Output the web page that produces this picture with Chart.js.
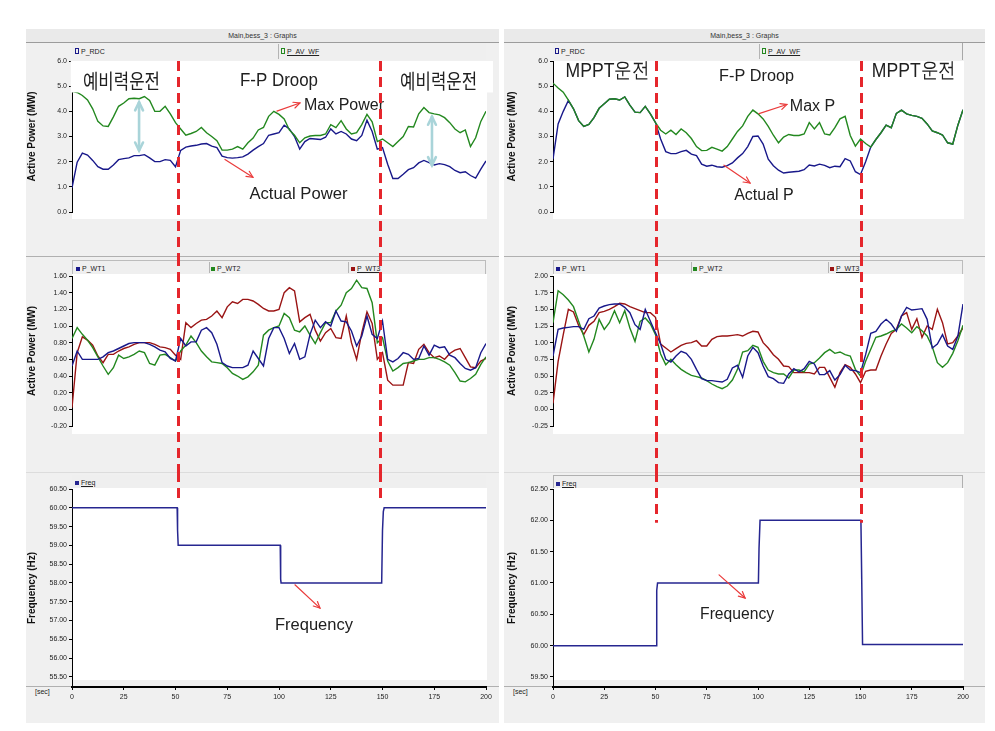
<!DOCTYPE html>
<html>
<head>
<meta charset="utf-8">
<title>Main,bess_3 : Graphs</title>
<script src="https://cdn.jsdelivr.net/npm/chart.js@4.4.1/dist/chart.umd.min.js"></script>
<style>
  body { margin: 0; width: 995px; height: 731px; position: relative; overflow: hidden; background: #fff; font-family: "Liberation Sans", Arial, sans-serif; }
  .frame { position: absolute; top: 29px; height: 694px; background: #f0f0f0; }
  .frame .title { position: absolute; left: 0; right: 0; top: 0; height: 13px; line-height: 13px; font-size: 7px; text-align: center; color: #333; background: #eaeaea; border-bottom: 1px solid #9c9c9c; }
  .sep { position: absolute; height: 1px; background: #b0b0b0; }
  .legend { position: absolute; background: #efefef; box-sizing: border-box; font-size: 7px; color: #222; }
  .legend .item { position: absolute; white-space: nowrap; line-height: 9px; }
  .legend .div { position: absolute; top: 1px; bottom: 1px; width: 1px; background: #b4b4b4; }
  .mk { display: inline-block; width: 4px; height: 4px; margin-right: 2px; vertical-align: 0px; }
  .mk.hollow { background: transparent !important; border: 1px solid; width: 2px; height: 4px; }
  .u { text-decoration: underline; }
  .axname { position: absolute; font-size: 7px; color: #222; }
  canvas { position: absolute; }
</style>
</head>
<body>

<div class="frame" style="left:26px;width:473px"><div class="title">Main,bess_3 : Graphs</div></div>
<div class="frame" style="left:504px;width:481px"><div class="title">Main,bess_3 : Graphs</div></div>
<div class="sep" style="left:26px;width:473px;top:256px"></div>
<div class="sep" style="left:504px;width:481px;top:256px"></div>
<div class="sep" style="left:26px;width:473px;top:472px;background:#dcdcdc"></div>
<div class="sep" style="left:504px;width:481px;top:472px;background:#dcdcdc"></div>
<div class="sep" style="left:26px;width:473px;top:686px"></div>
<div class="sep" style="left:504px;width:481px;top:686px"></div>
<div class="axname" style="left:35px;top:688px">[sec]</div>
<div class="axname" style="left:513px;top:688px">[sec]</div>

<script>
// time axis (s), sampled every 2.5 s
const T = [0, 2.5, 5, 7.5, 10, 12.5, 15, 17.5, 20, 22.5, 25, 27.5, 30, 32.5, 35, 37.5, 40, 42.5, 45, 47.5,
  50, 52.5, 55, 57.5, 60, 62.5, 65, 67.5, 70, 72.5, 75, 77.5, 80, 82.5, 85, 87.5, 90, 92.5, 95, 97.5,
  100, 102.5, 105, 107.5, 110, 112.5, 115, 117.5, 120, 122.5, 125, 127.5, 130, 132.5, 135, 137.5, 140, 142.5, 145, 147.5,
  150, 152.5, 155, 157.5, 160, 162.5, 165, 167.5, 170, 172.5, 175, 177.5, 180, 182.5, 185, 187.5, 190, 192.5, 195, 197.5, 200];

// tick labels
const xTicks = [0, 25, 50, 75, 100, 125, 150, 175, 200];
const pTicks = [0, 1, 2, 3, 4, 5, 6];
const wtTicksL = [-0.2, 0, 0.2, 0.4, 0.6, 0.8, 1.0, 1.2, 1.4, 1.6];
const wtTicksR = [-0.25, 0, 0.25, 0.5, 0.75, 1.0, 1.25, 1.5, 1.75, 2.0];
const fTicksL = [55.5, 56, 56.5, 57, 57.5, 58, 58.5, 59, 59.5, 60, 60.5];
const fTicksR = [59.5, 60, 60.5, 61, 61.5, 62, 62.5];

// mode change instants (red dashed lines)
const modeL = [51, 149];
const modeR = [50, 150];

// --- left column: 예비력운전 / F-P Droop ---
const avWfL = [4.8, 4.75, 4.63, 4.45, 4.1, 3.6, 3.42, 3.4, 3.78, 4.2, 4.33, 4.5, 4.52, 4.5, 4.59, 4.43, 4.0, 4.0, 4.2, 3.9,
  3.55, 3.3, 3.05, 3.12, 3.2, 3.36, 3.15, 3.0, 2.83, 2.46, 2.46, 2.5, 2.6, 2.5, 2.75, 2.94, 3.26, 3.36, 3.8, 4.0,
  3.88, 3.7, 3.26, 3.05, 2.75, 2.95, 3.02, 3.04, 3.04, 3.1, 3.47, 3.35, 3.63, 3.3, 3.1, 3.15, 3.47, 3.88, 3.58, 2.8,
  2.9, 2.75, 2.6, 2.8, 3.0, 3.4, 3.38, 3.9, 4.15, 3.95, 3.9, 3.86, 3.75, 3.55, 3.3, 3.15, 3.26, 2.6, 2.95, 3.6, 4.0];
const rdcL = [0.96, 1.98, 2.34, 2.26, 2.05, 1.8, 1.7, 1.7, 1.87, 2.08, 2.12, 2.15, 2.24, 2.24, 2.28, 2.15, 2.0, 2.0, 2.08, 2.05,
  1.8, 2.45, 2.58, 2.62, 2.65, 2.7, 2.72, 2.62, 2.56, 2.22, 2.16, 2.14, 2.16, 2.19, 2.3, 2.46, 2.6, 2.72, 3.05, 3.1,
  3.15, 3.45, 3.3, 3.0, 2.5, 2.8, 2.92, 2.9, 2.88, 2.97, 3.3, 3.1, 3.2, 3.1, 2.9, 2.83, 3.04, 3.65, 3.2, 2.5,
  2.56, 1.9, 1.33, 1.33, 1.5, 1.68, 1.76, 1.95, 2.05, 1.96, 1.87, 1.92, 1.88, 1.8, 1.65, 1.56, 1.6, 1.45, 1.35, 1.7, 2.03];
const wt1L = [0.52, 0.7, 0.6, 0.6, 0.6, 0.6, 0.63, 0.68, 0.7, 0.73, 0.76, 0.79, 0.8, 0.8, 0.8, 0.78, 0.75, 0.71, 0.69, 0.61,
  0.58, 0.85, 0.76, 0.81, 0.81, 0.95, 0.98, 0.92, 0.78, 0.56, 0.52, 0.5, 0.5, 0.5, 0.53, 0.7, 0.61, 0.52, 0.85, 0.98,
  0.98, 0.85, 0.67, 0.79, 0.6, 0.63, 0.9, 1.07, 0.98, 1.05, 1.0, 1.18, 1.06, 1.05, 0.94, 0.76, 0.88, 1.12, 0.9, 0.85,
  1.06, 0.6, 0.57, 0.61, 0.68, 0.66, 0.6, 0.61, 0.76, 0.65, 0.77, 0.74, 0.75, 0.65, 0.62, 0.55, 0.49, 0.47, 0.5, 0.68, 0.79];
const wt2L = [0.85, 0.98, 0.9, 0.83, 0.74, 0.63, 0.52, 0.42, 0.5, 0.65, 0.61, 0.63, 0.66, 0.7, 0.68, 0.55, 0.53, 0.65, 0.66, 0.62,
  0.58, 0.7, 0.77, 0.88, 0.8, 0.7, 0.63, 0.57, 0.56, 0.55, 0.5, 0.43, 0.4, 0.36, 0.39, 0.45, 0.53, 0.89, 0.95, 0.98,
  1.0, 1.15, 1.1, 0.95, 0.93, 1.0, 0.89, 0.79, 0.92, 1.04, 1.04, 1.18, 1.25, 1.4, 1.45, 1.55, 1.46, 1.45, 1.28, 0.8,
  0.86, 0.58, 0.46, 0.5, 0.55, 0.56, 0.58, 0.6, 0.6, 0.62, 0.62, 0.6, 0.57, 0.53, 0.44, 0.34, 0.33, 0.37, 0.42, 0.54, 0.63];
const wt3L = [0.02, 0.68, 0.87, 0.83, 0.77, 0.64, 0.56, 0.66, 0.66, 0.7, 0.73, 0.75, 0.78, 0.8, 0.8, 0.8, 0.78, 0.75, 0.74, 0.72,
  0.65, 0.6, 1.04, 0.98, 1.03, 1.07, 1.08, 1.12, 1.18, 1.1, 1.23, 1.29, 1.27, 1.32, 1.32, 1.3, 1.26, 1.21, 1.18, 1.18,
  1.2, 1.4, 1.46, 1.42, 1.05, 1.1, 1.14, 0.95, 0.82, 0.92, 0.97, 0.86, 0.85, 1.12, 0.8, 0.6, 0.92, 1.17, 1.03, 0.6,
  0.68, 0.35, 0.29, 0.29, 0.29, 0.56, 0.55, 0.72, 0.78, 0.68, 0.62, 0.64, 0.6, 0.67, 0.71, 0.73, 0.62, 0.51, 0.5, 0.58, 0.61];
const freqTL = [0, 50.8, 51, 51.3, 100.6, 100.8, 101, 149.6, 150, 150.4, 150.8, 200];
const freqL = [60, 60, 59.4, 59.0, 59.0, 58.1, 58.0, 58.0, 59.4, 59.9, 60.0, 60.0];

// --- right column: MPPT운전 / F-P Droop ---
const avWfR = [5.12, 4.93, 4.76, 4.45, 4.1, 3.63, 3.4, 3.48, 3.75, 4.12, 4.3, 4.48, 4.5, 4.45, 4.57, 4.25, 3.97, 3.95, 4.2, 3.9,
  3.55, 3.25, 3.1, 3.25, 3.08, 3.3, 3.15, 2.92, 2.6, 2.44, 2.45, 2.57, 2.5, 2.42, 2.6, 2.9, 3.2, 3.42, 3.8, 4.05,
  3.9, 3.7, 3.4, 3.05, 2.75, 2.98, 3.08, 3.04, 3.04, 3.1, 3.55, 3.3, 3.55, 3.1, 3.06, 3.35, 3.7, 3.8, 3.04, 2.62,
  2.9, 2.72, 2.58, 2.88, 3.15, 3.45, 3.35, 3.92, 4.05, 3.9, 3.84, 3.8, 3.72, 3.5, 3.22, 3.15, 3.06, 2.75, 2.7, 3.45, 4.06];
const rdcR = [2.1, 3.5, 4.0, 4.43, 4.1, 3.63, 3.4, 3.48, 3.75, 4.12, 4.3, 4.48, 4.5, 4.45, 4.57, 4.25, 3.97, 3.95, 4.2, 3.9,
  3.55, 2.9, 2.4, 2.32, 2.32, 2.4, 2.45, 2.3, 2.24, 1.9, 1.82, 1.86, 1.8, 1.78, 1.84, 1.95, 2.15, 2.32, 2.6, 3.0,
  3.02, 2.7, 2.1, 1.84, 1.66, 1.55, 1.58, 1.6, 1.62, 1.68, 1.87, 1.83, 1.9, 1.85, 1.76, 1.82, 1.8, 2.12, 2.03, 1.6,
  1.49, 2.0, 2.58, 2.88, 3.15, 3.45, 3.35, 3.92, 4.05, 3.9, 3.84, 3.8, 3.72, 3.5, 3.22, 3.15, 3.06, 2.75, 2.7, 3.45, 4.06];
const wt1R = [0.8, 1.2, 1.22, 1.23, 1.24, 1.24, 1.2, 1.36, 1.4, 1.52, 1.55, 1.57, 1.58, 1.58, 1.53, 1.45, 1.27, 1.2, 1.5, 1.32,
  1.15, 0.98, 0.75, 0.71, 0.8, 0.87, 0.84, 0.75, 0.6, 0.46, 0.43, 0.43, 0.42, 0.41, 0.45, 0.62, 0.66, 0.48, 0.8, 0.93,
  0.85, 0.65, 0.49, 0.46, 0.4, 0.39, 0.53, 0.61, 0.56, 0.61, 0.72, 0.68, 0.52, 0.52, 0.58, 0.44, 0.52, 0.66, 0.59, 0.58,
  0.55, 0.82, 1.14, 1.17, 1.28, 1.35, 1.28, 1.17, 1.4, 1.53, 1.49, 1.5, 1.51, 1.35, 0.92, 0.98, 1.12, 0.95, 0.9, 1.1, 1.58];
const wt2R = [1.3, 1.78, 1.72, 1.64, 1.54, 1.32, 1.1, 0.86, 1.05, 1.35, 1.2, 1.3, 1.48, 1.3, 1.48, 1.22, 1.02, 1.32, 1.37, 1.28,
  1.12, 0.83, 0.67, 0.75, 0.67, 0.6, 0.55, 0.51, 0.49, 0.47, 0.43, 0.38, 0.34, 0.31, 0.35, 0.44, 0.6, 0.86, 0.88, 0.96,
  0.93, 0.72, 0.59, 0.55, 0.53, 0.53, 0.47, 0.59, 0.59, 0.56, 0.68, 0.7, 0.77, 0.85, 0.9, 0.84, 0.86, 0.82, 0.8, 0.6,
  0.5, 0.72, 0.9, 1.08, 1.1, 1.13, 1.17, 1.2, 1.28, 1.22, 1.15, 1.24, 1.18, 1.1, 0.94, 0.7, 0.63, 0.7, 0.84, 1.03, 1.26];
const wt3R = [0.09, 0.72, 1.12, 1.5, 1.46, 1.26, 1.12, 1.26, 1.32, 1.45, 1.47, 1.5, 1.54, 1.59, 1.58, 1.54, 1.51, 1.48, 1.45, 1.45,
  1.38, 0.98, 0.92, 0.86, 0.91, 0.96, 0.99, 1.0, 1.03, 0.95, 0.95, 1.05, 1.09, 1.1, 1.1, 1.11, 1.12, 1.1, 1.14, 1.17,
  1.16, 1.0, 0.92, 0.82, 0.75, 0.65, 0.64, 0.55, 0.55, 0.55, 0.55, 0.53, 0.63, 0.63, 0.48, 0.33, 0.55, 0.67, 0.63, 0.53,
  0.4, 0.57, 0.59, 0.59, 0.8, 0.98, 1.14, 1.2, 1.4, 1.45, 1.2, 1.36, 1.08, 1.25, 1.2, 1.5, 1.3, 0.98, 1.0, 1.1, 1.22];
const freqTR = [0, 50.3, 50.6, 51, 100.2, 100.5, 101, 150.2, 150.6, 151, 200];
const freqR = [60.0, 60.0, 60.88, 61.0, 61.0, 61.55, 62.0, 62.0, 61.05, 60.02, 60.02];

const FONT = '"Liberation Sans", Arial, sans-serif';
const KR = '"Noto Sans CJK KR", "Liberation Sans", sans-serif';
const BLUE = '#18188a', GREEN = '#23881f', RED = '#9a1414', NAVY = '#262690';

const COLS = {
  left: {x: 0, w: 497, axisW: 72, padR: 11, titlePad: 26, legX: 72, legW: 414},
  right: {x: 497, w: 498, axisW: 56, padR: 32, titlePad: 9, legX: 553, legW: 410}
};
const ROWS = {
  top: {y: 42, h: 214, padT: 19, padB: 8, bg: {top: 0, bottom: 7}},
  middle: {y: 256, h: 216, padT: 20, padB: 10, bg: {top: 2, bottom: 8}},
  bottom: {y: 472, h: 251, padT: 17, padB: 0, bg: {top: 1, bottom: -7}}
};

// white plot background
const plotBg = {
  id: 'plotBg',
  beforeDraw(chart, args, o) {
    const a = chart.chartArea, ctx = chart.ctx;
    ctx.save();
    ctx.fillStyle = '#fff';
    ctx.fillRect(a.left, a.top - (o.top || 0), a.right - a.left + 1, a.bottom - a.top + (o.top || 0) + (o.bottom || 0));
    ctx.restore();
  }
};

function arrow(ctx, x0, y0, x1, y1, head, both) {
  ctx.beginPath(); ctx.moveTo(x0, y0); ctx.lineTo(x1, y1); ctx.stroke();
  const tip = (ax, ay, bx, by) => {
    const ang = Math.atan2(by - ay, bx - ax);
    ctx.beginPath();
    ctx.moveTo(bx - head * Math.cos(ang - 0.45), by - head * Math.sin(ang - 0.45));
    ctx.lineTo(bx, by);
    ctx.lineTo(bx - head * Math.cos(ang + 0.45), by - head * Math.sin(ang + 0.45));
    ctx.stroke();
  };
  tip(x0, y0, x1, y1);
  if (both) tip(x1, y1, x0, y0);
}

// text boxes, labels and arrows, placed in data units
const notes = {
  id: 'notes',
  afterDatasetsDraw(chart, args, o) {
    const {ctx, scales: {x, y}} = chart;
    ctx.save();
    (o.boxes || []).forEach(b => {
      const x0 = x.getPixelForValue(b.t0), x1 = x.getPixelForValue(b.t1);
      const y0 = y.getPixelForValue(b.v1), y1 = y.getPixelForValue(b.v0);
      ctx.fillStyle = '#fff';
      ctx.fillRect(x0, y0, x1 - x0, y1 - y0);
    });
    (o.arrows || []).forEach(a => {
      ctx.strokeStyle = a.color || '#ea3b3b';
      ctx.lineWidth = a.width || 1.2;
      ctx.lineCap = 'round';
      arrow(ctx, x.getPixelForValue(a.t0), y.getPixelForValue(a.v0),
        x.getPixelForValue(a.t1), y.getPixelForValue(a.v1), a.head || 7, a.both);
    });
    (o.texts || []).forEach(s => {
      ctx.font = s.size + 'px ' + (s.family || FONT);
      ctx.fillStyle = '#202020';
      ctx.textAlign = 'center';
      ctx.textBaseline = 'middle';
      ctx.fillText(s.text, x.getPixelForValue(s.t), y.getPixelForValue(s.v), s.w);
    });
    ctx.restore();
  }
};

// red dashed mode-change lines
const guides = {
  id: 'guides',
  afterDraw(chart, args, o) {
    if (!o.at) return;
    const {ctx, scales: {x, y}} = chart;
    const yTop = o.from === undefined ? 0 : y.getPixelForValue(o.from);
    ctx.save();
    ctx.strokeStyle = '#e5262c';
    ctx.lineWidth = 3;
    ctx.setLineDash([10, 6]);
    o.at.forEach((t, i) => {
      const yEnd = o.to ? y.getPixelForValue(o.to[i]) : chart.height;
      const px = Math.round(x.getPixelForValue(t)) + 0.5;
      ctx.beginPath(); ctx.moveTo(px, yTop); ctx.lineTo(px, yEnd); ctx.stroke();
    });
    ctx.restore();
  }
};

const pts = (xs, ys) => ys.map((v, i) => ({x: xs[i], y: v}));

function line(label, xs, ys, color, order, width) {
  return {label, data: pts(xs, ys), borderColor: color, borderWidth: width || 1.4,
    pointRadius: 0, tension: 0, fill: false, order: order || 0};
}

function legendBar(col, top, h, items, style) {
  const bar = document.createElement('div');
  bar.className = 'legend';
  bar.style.cssText = `left:${col.legX}px;top:${top}px;width:${col.legW}px;height:${h}px;` + (style || '');
  items.forEach(it => {
    if (it.div !== undefined) {
      const d = document.createElement('div');
      d.className = 'div';
      d.style.left = (it.div - col.legX) + 'px';
      bar.appendChild(d);
    }
    const el = document.createElement('div');
    el.className = 'item';
    el.style.left = (it.at - col.legX) + 'px';
    el.style.top = ((h - 9) / 2) + 'px';
    el.innerHTML = `<span class="mk${it.hollow ? ' hollow' : ''}" style="background:${it.color};border-color:${it.color}"></span>` +
      `<span class="${it.u ? 'u' : ''}">${it.name}</span>`;
    bar.appendChild(el);
  });
  document.body.appendChild(bar);
}

function makePanel(col, row, datasets, y, plug, showX) {
  const c = document.createElement('canvas');
  c.width = col.w; c.height = row.h;
  c.style.left = col.x + 'px'; c.style.top = row.y + 'px';
  c.style.width = col.w + 'px'; c.style.height = row.h + 'px';
  document.body.appendChild(c);

  return new Chart(c.getContext('2d'), {
    type: 'line',
    data: {datasets},
    plugins: [plotBg, notes, guides],
    options: {
      responsive: false,
      animation: false,
      devicePixelRatio: 1,
      layout: {padding: {top: row.padT, bottom: row.padB, left: 0, right: col.padR}},
      plugins: {
        legend: {display: false},
        tooltip: {enabled: false},
        plotBg: row.bg,
        notes: plug.notes || {},
        guides: plug.guides || {}
      },
      scales: {
        x: {
          type: 'linear', min: 0, max: 200, display: !!showX,
          afterBuildTicks: s => { s.ticks = xTicks.map(v => ({value: v})); },
          afterFit: s => { s.height = 36; },
          grid: {drawOnChartArea: false, tickLength: 3, color: '#000'},
          border: {color: '#000', width: 2},
          ticks: {font: {family: FONT, size: 7}, color: '#222', padding: 3, maxRotation: 0, autoSkip: false}
        },
        y: {
          min: y.min, max: y.max,
          afterBuildTicks: s => { s.ticks = y.ticks.map(v => ({value: v})); },
          afterFit: s => { s.width = col.axisW; },
          grid: {drawOnChartArea: false, tickLength: 3, color: '#000'},
          border: {color: '#000', width: 1},
          ticks: {font: {family: FONT, size: 7}, color: '#222', padding: 2, autoSkip: false,
            callback: v => Number(v).toFixed(y.dec)},
          title: {display: true, text: y.title, color: '#111',
            font: {family: FONT, size: 10, weight: 'bold'}, padding: {top: col.titlePad, bottom: 0}}
        }
      }
    }
  });
}

// legends
legendBar(COLS.left, 43, 17, [
  {name: 'P_RDC', color: BLUE, at: 75, hollow: true},
  {name: 'P_AV_WF', color: GREEN, at: 281, hollow: true, u: true, div: 278}
]);
legendBar(COLS.right, 43, 17, [
  {name: 'P_RDC', color: BLUE, at: 555, hollow: true},
  {name: 'P_AV_WF', color: GREEN, at: 762, hollow: true, u: true, div: 759}
], 'border-right:1px solid #a8a8a8;');
legendBar(COLS.left, 260, 15, [
  {name: 'P_WT1', color: BLUE, at: 75},
  {name: 'P_WT2', color: GREEN, at: 210, div: 208},
  {name: 'P_WT3', color: RED, at: 350, u: true, div: 347}
], 'border:1px solid #bcbcbc;');
legendBar(COLS.right, 260, 15, [
  {name: 'P_WT1', color: BLUE, at: 555},
  {name: 'P_WT2', color: GREEN, at: 692, div: 690},
  {name: 'P_WT3', color: RED, at: 829, u: true, div: 827}
], 'border:1px solid #bcbcbc;');
legendBar(COLS.left, 475, 14, [{name: 'Freq', color: NAVY, at: 75, u: true}], 'border-bottom:1px solid #888;');
legendBar(COLS.right, 475, 14, [{name: 'Freq', color: NAVY, at: 555, u: true}], 'border:1px solid #b0b0b0;border-bottom-color:#888;');

// left column
makePanel(COLS.left, ROWS.top,
  [line('P_AV_WF', T, avWfL, GREEN, 0), line('P_RDC', T, rdcL, BLUE, 1)],
  {min: 0, max: 6, ticks: pTicks, dec: 1, title: 'Active Power (MW)'},
  {
    notes: {
      boxes: [{t0: -0.6, t1: 203.4, v0: 4.75, v1: 6.0}],
      texts: [
        {t: 23.9, v: 5.2, text: '예비력운전', size: 20, w: 77, family: KR},
        {t: 100, v: 5.22, text: 'F-P Droop', size: 18, w: 78},
        {t: 177.1, v: 5.2, text: '예비력운전', size: 20, w: 77, family: KR},
        {t: 131.4, v: 4.24, text: 'Max Power', size: 16, w: 82},
        {t: 109.4, v: 0.71, text: 'Actual Power', size: 17, w: 98}
      ],
      arrows: [
        {t0: 99, v0: 4.01, t1: 110.1, v1: 4.33},
        {t0: 73.9, v0: 2.09, t1: 87.4, v1: 1.38},
        {t0: 32.4, v0: 4.36, t1: 32.4, v1: 2.44, both: true, color: '#a9d4d9', width: 2.6, head: 9},
        {t0: 173.9, v0: 3.79, t1: 173.9, v1: 1.86, both: true, color: '#a9d4d9', width: 2.6, head: 9}
      ]
    },
    guides: {at: modeL, from: 6}
  });

makePanel(COLS.left, ROWS.middle,
  [line('P_WT1', T, wt1L, BLUE, 0), line('P_WT2', T, wt2L, GREEN, 1), line('P_WT3', T, wt3L, RED, 2)],
  {min: -0.2, max: 1.6, ticks: wtTicksL, dec: 2, title: 'Active Power (MW)'},
  {guides: {at: modeL}});

makePanel(COLS.left, ROWS.bottom,
  [line('Freq', freqTL, freqL, NAVY, 0, 1.5)],
  {min: 55.23, max: 60.5, ticks: fTicksL, dec: 2, title: 'Frequency (Hz)'},
  {
    notes: {
      texts: [{t: 116.9, v: 56.88, text: 'Frequency', size: 17, w: 78}],
      arrows: [{t0: 107.7, v0: 57.95, t1: 119.8, v1: 57.33}]
    },
    guides: {at: modeL, to: [60.13, 60.13]}
  }, true);

// right column
makePanel(COLS.right, ROWS.top,
  [line('P_AV_WF', T, avWfR, GREEN, 0), line('P_RDC', T, rdcR, BLUE, 1)],
  {min: 0, max: 6, ticks: pTicks, dec: 1, title: 'Active Power (MW)'},
  {
    notes: {
      texts: [
        {t: 26.6, v: 5.61, text: 'MPPT운전', size: 21, w: 84},
        {t: 99.3, v: 5.39, text: 'F-P Droop', size: 17, w: 75},
        {t: 176, v: 5.61, text: 'MPPT운전', size: 21, w: 84},
        {t: 126.6, v: 4.2, text: 'Max P', size: 16, w: 46},
        {t: 102.9, v: 0.67, text: 'Actual P', size: 16, w: 60}
      ],
      arrows: [
        {t0: 100.5, v0: 3.91, t1: 114.1, v1: 4.27},
        {t0: 83.4, v0: 1.86, t1: 96.1, v1: 1.15}
      ]
    },
    guides: {at: modeR, from: 6}
  });

makePanel(COLS.right, ROWS.middle,
  [line('P_WT1', T, wt1R, BLUE, 0), line('P_WT2', T, wt2R, GREEN, 1), line('P_WT3', T, wt3R, RED, 2)],
  {min: -0.25, max: 2.0, ticks: wtTicksR, dec: 2, title: 'Active Power (MW)'},
  {guides: {at: modeR}});

makePanel(COLS.right, ROWS.bottom,
  [line('Freq', freqTR, freqR, NAVY, 0, 1.5)],
  {min: 59.34, max: 62.5, ticks: fTicksR, dec: 2, title: 'Frequency (Hz)'},
  {
    notes: {
      texts: [{t: 89.8, v: 60.49, text: 'Frequency', size: 16, w: 74}],
      arrows: [{t0: 81, v0: 61.13, t1: 93.7, v1: 60.76}]
    },
    guides: {at: modeR, to: [61.96, 61.96]}
  }, true);
</script>
</body>
</html>
